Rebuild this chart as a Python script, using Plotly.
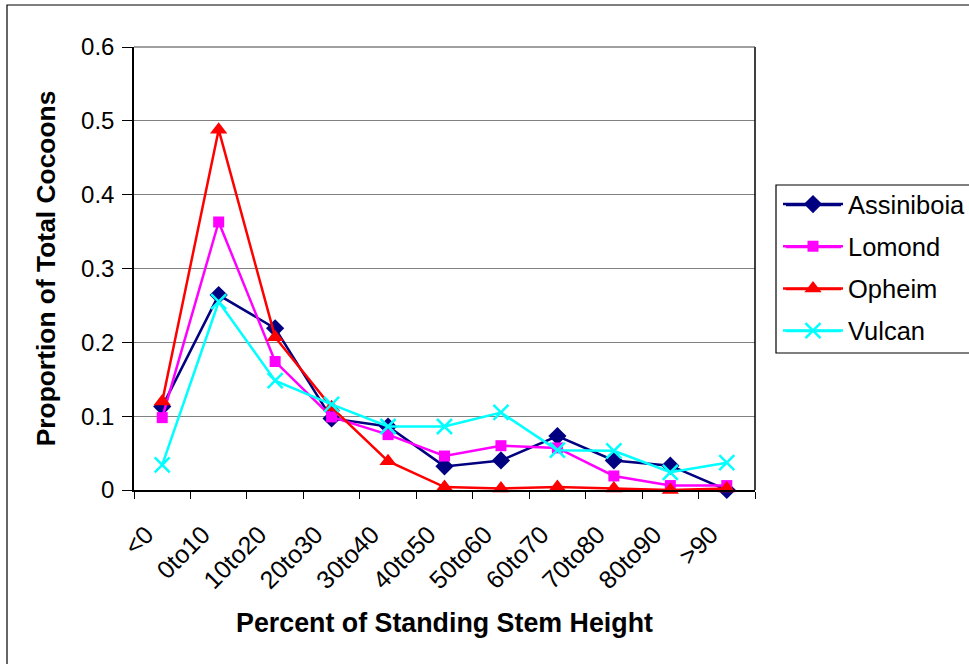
import plotly.graph_objects as go

# Cocoon position along the standing stem, by site
categories = ["<0", "0to10", "10to20", "20to30", "30to40", "40to50",
              "50to60", "60to70", "70to80", "80to90", ">90"]
assiniboia = [0.113, 0.264, 0.219, 0.097, 0.086, 0.032, 0.040, 0.073, 0.040, 0.033, 0.000]
lomond = [0.098, 0.363, 0.174, 0.099, 0.075, 0.046, 0.060, 0.057, 0.019, 0.006, 0.006]
opheim = [0.120, 0.488, 0.207, 0.112, 0.039, 0.004, 0.002, 0.004, 0.002, 0.000, 0.002]
vulcan = [0.034, 0.255, 0.148, 0.116, 0.086, 0.086, 0.105, 0.054, 0.053, 0.024, 0.037]

W, H = 969, 664
ML, MR, MT, MB = 134, 214, 47, 174
PW, PH = W - ML - MR, H - MT - MB
FONT = "Liberation Sans, Arial, sans-serif"

# legend geometry (pixels)
LEG_TOP, LEG_STEP, LEG_FIRST = 181, 42, 205


def px(x):
    return (x - ML) / PW


def py(y):
    return (H - MB - y) / PH


series = [
    ("Assiniboia", assiniboia, "#000080", dict(symbol="diamond", size=14)),
    ("Lomond", lomond, "#FF00FF", dict(symbol="square", size=11)),
    ("Opheim", opheim, "#FF0000", dict(symbol="triangle-up", size=15)),
    ("Vulcan", vulcan, "#00FFFF", dict(symbol="x-thin", size=15,
                                       line=dict(width=2.5, color="#00FFFF"))),
]

fig = go.Figure()
for i, (name, vals, color, marker) in enumerate(series):
    fig.add_trace(go.Scatter(
        x=categories, y=vals, name=name, mode="lines+markers",
        line=dict(color=color, width=2.5),
        marker=dict(color=color, **marker),
        cliponaxis=False, legendgroup=f"g{i}",
    ))

shapes = [
    # outer chart frame (runs past the right and bottom edges)
    dict(type="rect", xref="paper", yref="paper",
         x0=px(7), x1=px(W + 20), y0=py(H + 20), y1=py(5),
         line=dict(color="black", width=1.2), layer="below"),
    # plot area right and top edges
    dict(type="line", xref="paper", yref="paper",
         x0=1, x1=1, y0=0, y1=1, line=dict(color="black", width=1.5)),
    dict(type="line", xref="paper", yref="paper",
         x0=0, x1=1, y0=1, y1=1, line=dict(color="#404040", width=1.2)),
    # legend frame
    dict(type="rect", xref="paper", yref="paper",
         x0=px(776), x1=px(W + 20), y0=py(353), y1=py(185),
         line=dict(color="black", width=1.2), fillcolor="white",
         layer="below"),
]
# longer legend key lines
for i, (name, vals, color, marker) in enumerate(series):
    yk = py(LEG_FIRST + i * LEG_STEP)
    shapes.append(dict(type="line", xref="paper", yref="paper",
                       x0=px(786), x1=px(841), y0=yk, y1=yk,
                       line=dict(color=color, width=2.5)))

fig.update_layout(
    width=W, height=H,
    margin=dict(l=ML, r=MR, t=MT, b=MB, autoexpand=False),
    paper_bgcolor="white", plot_bgcolor="white",
    font=dict(family=FONT, color="black", size=24),
    showlegend=True,
    legend=dict(x=px(778), y=py(LEG_TOP), xanchor="left", yanchor="top",
                bgcolor="rgba(0,0,0,0)", borderwidth=0,
                font=dict(size=25.5), tracegroupgap=6, itemwidth=60),
    xaxis=dict(
        type="category", range=[-0.5, 10.5],
        showline=True, linecolor="black", linewidth=2, mirror=False,
        ticks="outside", tickson="boundaries", ticklen=7, tickcolor="black",
        tickangle=-45, tickfont=dict(size=25),
        ticklabelstandoff=18, ticklabelshift=-16,
        showgrid=False, zeroline=False,
        title=dict(text="<b>Percent of Standing Stem Height</b>",
                   font=dict(size=26.8), standoff=20),
    ),
    yaxis=dict(
        range=[0, 0.6], dtick=0.1,
        showline=True, linecolor="black", linewidth=1.5,
        ticks="outside", ticklen=10, tickcolor="black",
        ticklabelstandoff=3,
        showgrid=True, gridcolor="#808080", gridwidth=1, zeroline=False,
        tickfont=dict(size=24),
        title=dict(text="<b>Proportion of Total Cocoons</b>",
                   font=dict(size=26.4), standoff=18),
    ),
    shapes=shapes,
)

fig.write_html("out.html")
